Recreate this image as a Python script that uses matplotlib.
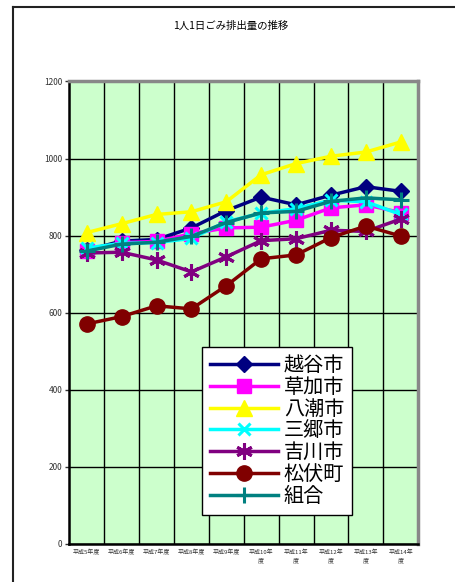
import matplotlib
matplotlib.use('Agg')
import matplotlib.pyplot as plt
from matplotlib.lines import Line2D
import numpy as np

plt.rcParams['font.family'] = ['Noto Sans CJK JP', 'DejaVu Sans']

# fiscal years (Heisei 5 .. 14)
years = ['平成5年度', '平成6年度', '平成7年度', '平成8年度', '平成9年度',
         '平成10年\n度', '平成11年\n度', '平成12年\n度', '平成13年\n度', '平成14年\n度']

koshigaya = [762, 786, 790, 820, 865, 900, 880, 905, 927, 915]
soka = [760, 782, 785, 805, 820, 822, 840, 872, 880, 860]
yashio = [808, 831, 855, 862, 888, 958, 987, 1006, 1017, 1043]
misato = [768, 780, 782, 793, 836, 858, 870, 892, 888, 855]
yoshikawa = [755, 757, 737, 706, 745, 787, 792, 814, 811, 843]
matsubushi = [571, 590, 618, 610, 670, 740, 750, 795, 825, 799]
kumiai = [760, 778, 783, 798, 834, 859, 863, 889, 898, 893]

names = ['越谷市', '草加市', '八潮市', '三郷市', '吉川市', '松伏町', '組合']

fig = plt.figure(figsize=(4.56, 5.82), dpi=100)
ax = fig.add_axes([0.152, 0.0653, 0.765, 0.7947])
ax.set_facecolor('#CCFFCC')

x = np.arange(len(years))
# (values, colour, marker, size, mew)
series = [
    (koshigaya, '#000080', 'D', 8.5, 1),
    (soka, '#FF00FF', 's', 9.5, 1),
    (yashio, '#FFFF00', '^', 12, 1),
    (misato, '#00FFFF', 'x', 9, 2.2),
    (yoshikawa, '#800080', (6, 2, 0), 12, 2.2),
    (matsubushi, '#800000', 'o', 11, 1),
    (kumiai, '#008080', '+', 11, 2.2),
]
for (vals, col, mk, ms, mew), name in zip(series, names):
    ax.plot(x, vals, color=col, lw=2.5, marker=mk, ms=ms, mew=mew,
            mec=col, mfc=col, label=name, zorder=3)

ax.set_xlim(-0.5, len(years) - 0.5)
ax.set_ylim(0, 1200)
ax.set_yticks(range(0, 1201, 200))
ax.set_xticks(x)
ax.set_xticklabels(years, fontsize=4.3, linespacing=1.6, va='top')
ax.set_xticks(x[:-1] + 0.5, minor=True)
ax.tick_params(axis='x', which='major', length=0, pad=4, colors='#333333')
ax.tick_params(axis='x', which='minor', length=0)
ax.tick_params(axis='y', labelsize=6, length=3, width=1, pad=2, colors='#333333')

ax.grid(True, which='minor', axis='x', color='black', lw=1)
ax.grid(True, which='major', axis='y', color='black', lw=1)
ax.set_axisbelow(True)

for s in ['top', 'right']:
    ax.spines[s].set_color('#888888')
    ax.spines[s].set_linewidth(2.5)
for s in ['left', 'bottom']:
    ax.spines[s].set_color('black')
    ax.spines[s].set_linewidth(1.8)

leg = ax.legend(loc='upper left', bbox_to_anchor=(0.381, 0.426), borderaxespad=0,
                fontsize=14.5, handlelength=3.35, handletextpad=0.3, labelspacing=0.04,
                borderpad=0.4, fancybox=False, framealpha=1, edgecolor='black')
leg.get_frame().set_linewidth(1)

fig.text(0.505, 0.955, '1人1日ごみ排出量の推移', ha='center', va='center', fontsize=7.5)

# outer chart frame (top and left edges only visible)
fig.add_artist(Line2D([13 / 456, 1], [1 - 7 / 582, 1 - 7 / 582], color='#222222', lw=1.5))
fig.add_artist(Line2D([13 / 456, 13 / 456], [0, 1 - 7 / 582], color='#222222', lw=1.5))

fig.savefig('out.png', dpi=100, facecolor='white')
